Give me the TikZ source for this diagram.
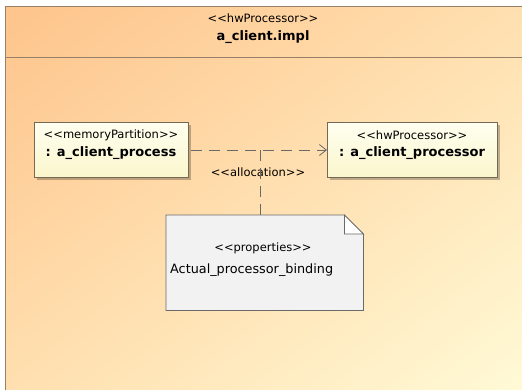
\documentclass[tikz,border=0pt]{standalone}
\usepackage{fontspec}
\setmainfont{DejaVu Sans}
\usetikzlibrary{arrows.meta,shadows,shadings}
\definecolor{bgA}{RGB}{254,196,140}
\definecolor{bgB}{RGB}{255,251,216}
\definecolor{bgM}{RGB}{255,224,176}
\definecolor{frameC}{RGB}{150,128,105}
\definecolor{boxA}{RGB}{255,255,240}
\definecolor{boxB}{RGB}{250,246,204}
\definecolor{boxLine}{RGB}{115,105,85}
\definecolor{noteFill}{RGB}{242,242,242}
\definecolor{noteLine}{RGB}{105,105,105}
\definecolor{depC}{RGB}{105,105,105}
\newcommand\stereo[1]{<\kern0pt<#1>\kern0pt>}
\begin{document}
\begin{tikzpicture}[x=1pt,y=-1pt,
  stxt/.style={font=\fontsize{11.5}{13}\selectfont, inner sep=0pt},
  ntxt/.style={font=\fontsize{13}{15}\selectfont\bfseries, inner sep=0pt},
  ptxt/.style={font=\fontsize{12.8}{15}\selectfont, inner sep=0pt},
  frame/.style={draw=frameC, line width=1pt, upper left=bgA, lower right=bgB, upper right=bgM, lower left=bgM, anchor=north west, inner sep=0pt},
  part/.style={draw=boxLine, line width=0.8pt, top color=boxA, bottom color=boxB, anchor=north west, inner sep=0pt,
    drop shadow={shadow xshift=3pt, shadow yshift=-3pt, fill=black, opacity=0.25}},
  notebox/.style={anchor=north west, inner sep=0pt, minimum width=197pt, minimum height=95pt},
  dep/.style={draw=depC, line width=0.8pt, dash pattern=on 11pt off 7pt},
]
\useasboundingbox (0,0) rectangle (522,389);
\clip (0,0) rectangle (522,389);
% outer frame
\node[frame, minimum width=525pt, minimum height=395pt] (frame) at (5,6) {};
\coordinate (sepL) at (5,57);
\coordinate (sepR) at (540,57);
\draw[frameC, line width=0.8pt] (sepL) -- (sepR);
\node[stxt] (hst) at (263,18) {\stereo{hwProcessor}};
\node[ntxt] (htitle) at (263,37) {a\_client.impl};
% parts
\node[part, minimum width=154pt, minimum height=55pt] (part) at (34,122) {};
\node[stxt] (pst) at (111,135) {\stereo{memoryPartition}};
\node[ntxt] (pname) at (111,153) {: a\_client\_process};
\node[part, minimum width=170pt, minimum height=55pt] (hw) at (327,122) {};
\node[stxt] (hwst) at (412,135) {\stereo{hwProcessor}};
\node[ntxt] (hwname) at (412,153) {: a\_client\_processor};
% allocation
\coordinate (aS) at (191,150);
\coordinate (aE) at (327,150);
\draw[dep, -{Straight Barb[length=7pt,width=11pt]}] (aS) -- (aE);
\node[stxt] (alloc) at (258,172) {\stereo{allocation}};
% note
\node[notebox] (note) at (166,215) {};
\fill[black, opacity=0.25, xshift=3pt, yshift=-3pt] (note.north west) -- ([xshift=-19pt]note.north east) -- ([yshift=-19pt]note.north east) -- (note.south east) -- (note.south west) -- cycle;
\filldraw[fill=noteFill, draw=noteLine, line width=0.8pt] (note.north west) -- ([xshift=-19pt]note.north east) -- ([yshift=-19pt]note.north east) -- (note.south east) -- (note.south west) -- cycle;
\filldraw[fill=white, draw=noteLine, line width=0.8pt] ([xshift=-19pt]note.north east) -- ([xshift=-19pt,yshift=-19pt]note.north east) -- ([yshift=-19pt]note.north east) -- cycle;
\node[stxt] (nst) at (263,248) {\stereo{properties}};
\node[ptxt, anchor=west] (nname) at (170,270) {Actual\_processor\_binding};
% note attachment
\coordinate (j) at (260,150);
\draw[dep] (j) -- (j |- note.north);
\end{tikzpicture}
\end{document}
